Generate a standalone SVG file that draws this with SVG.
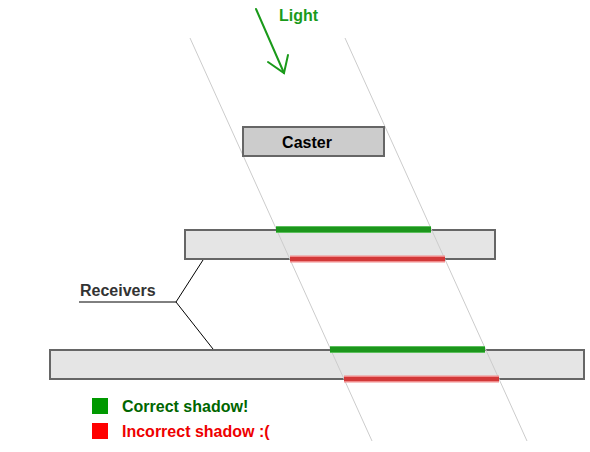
<svg xmlns="http://www.w3.org/2000/svg" width="590" height="452" viewBox="0 0 590 452">
<style>
text{font-family:"Liberation Sans",Arial,sans-serif;font-weight:bold;font-size:16px}
.recv{fill:#e5e5e5;stroke:#666;stroke-width:2}
.ray{stroke:#ccc;stroke-width:1;fill:none}
.gsh{stroke:#1c961c;stroke-width:5;stroke-linecap:butt}
.gshb{stroke:#5cbf5c;stroke-width:7}
.rsh{stroke:#d23838;stroke-width:4}
.rshb{stroke:#f08a8a;stroke-width:7}
.ptr{stroke:#000;stroke-width:1;fill:none}
</style>
<rect width="590" height="452" fill="#fff"/>
<g id="receiver1"><rect class="recv" x="185" y="230" width="310" height="29"/></g>
<g id="receiver2"><rect class="recv" x="50" y="350" width="534" height="29"/></g>
<g id="connectors">
<line class="ray" x1="190" y1="38" x2="372" y2="441"/>
<line class="ray" x1="345" y1="38" x2="527" y2="441"/>
<g id="light-arrow" stroke="#1a9a1a" stroke-width="2" fill="none" stroke-linecap="round">
<line x1="256" y1="9" x2="284" y2="73"/>
<polyline points="268,62 284,73 288,55"/>
</g>
<polyline class="ptr" points="79,302 176,302 203,260"/>
<line class="ptr" x1="176" y1="302" x2="213" y2="349"/>
</g>
<g id="caster">
<rect x="243" y="127" width="141" height="29" fill="#ccc" stroke="#666" stroke-width="2"/>
<text x="307" y="148" text-anchor="middle" fill="#000">Caster</text>
</g>
<g id="shadows">
<line class="gshb" x1="276" y1="229.5" x2="431" y2="229.5"/>
<line class="gsh" x1="276" y1="229.5" x2="431" y2="229.5"/>
<line class="rshb" x1="290" y1="259" x2="445" y2="259"/>
<line class="rsh" x1="290" y1="259" x2="445" y2="259"/>
<line class="gshb" x1="330" y1="349.5" x2="485" y2="349.5"/>
<line class="gsh" x1="330" y1="349.5" x2="485" y2="349.5"/>
<line class="rshb" x1="344" y1="379" x2="499" y2="379"/>
<line class="rsh" x1="344" y1="379" x2="499" y2="379"/>
</g>
<g id="light-label"><text x="279" y="21" fill="#1a9a1a">Light</text></g>
<g id="receivers-label"><text x="80" y="296" fill="#333">Receivers</text></g>
<g id="legend">
<rect x="92" y="398" width="16" height="16" fill="#009900"/>
<text x="122" y="412" fill="#006600">Correct shadow!</text>
<rect x="92" y="423" width="16" height="16" fill="#ff0000"/>
<text x="122" y="437" fill="#ee0000">Incorrect shadow :(</text>
</g>
</svg>
